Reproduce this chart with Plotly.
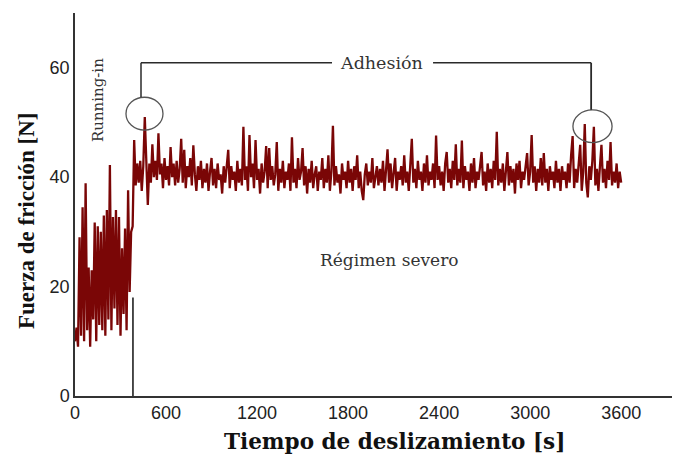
import numpy as np
import plotly.graph_objects as go

# ---------------- data ----------------
SAMPLE_STEP_S = 10  # seconds between readings
friction_force_n = [
    # 0-39 running-in
    10.0, 12.5, 9.0, 29.0, 11.0, 34.5, 10.0, 38.9, 12.0, 23.5,
    9.0, 23.0, 14.0, 31.7, 10.0, 31.0, 13.0, 30.0, 12.0, 33.0,
    11.0, 34.0, 14.0, 42.2, 12.0, 32.7, 16.0, 34.0, 13.0, 32.7,
    11.0, 27.0, 15.0, 30.6, 12.0, 37.6, 19.0, 30.0, 31.0, 46.8,
    # 40-59
    38.5, 42.5, 39.0, 43.0, 37.5, 42.0, 51.0, 40.5, 34.9, 42.5,
    39.0, 46.0, 40.0, 43.0, 39.5, 48.0, 40.5, 42.5, 38.0, 43.5,
    # 60-79
    39.5, 42.0, 38.5, 45.5, 40.0, 42.5, 38.5, 43.0, 39.0, 41.5,
    47.0, 39.0, 45.0, 38.0, 42.0, 40.0, 43.5, 38.5, 45.8, 40.5,
    # 80-99
    37.5, 42.0, 39.5, 43.0, 38.0, 41.5, 39.0, 42.5, 37.5, 41.0,
    43.5, 38.5, 41.5, 38.0, 42.5, 39.5, 40.5, 37.0, 42.0, 39.0,
    # 100-119
    41.5, 45.0, 38.0, 42.0, 39.5, 41.0, 37.5, 43.0, 39.0, 41.5,
    38.5, 49.2, 39.5, 42.0, 37.5, 47.7, 40.0, 42.5, 38.0, 46.8,
    # 120-139
    39.5, 41.5, 37.0, 42.5, 39.0, 41.0, 45.7, 38.0, 45.3, 39.5,
    42.0, 38.5, 40.5, 46.4, 37.5, 41.5, 39.0, 43.0, 38.0, 41.0,
    # 140-159
    39.5, 42.5, 37.5, 47.3, 39.0, 41.5, 38.0, 43.5, 39.5, 41.0,
    45.3, 38.5, 42.0, 37.0, 41.5, 39.0, 43.0, 38.0, 40.5, 42.0,
    # 160-179
    37.5, 41.0, 39.5, 43.5, 38.0, 41.5, 39.0, 44.0, 37.5, 41.0,
    49.4, 38.5, 42.0, 39.0, 40.5, 37.0, 42.5, 39.5, 41.0, 38.0,
    # 180-199
    43.0, 39.0, 41.5, 37.5, 42.0, 39.5, 44.0, 38.0, 41.0, 37.5,
    35.8, 40.5, 42.5, 38.5, 41.0, 39.0, 43.5, 38.0, 40.0, 42.0,
    # 200-219
    38.5, 41.5, 39.0, 43.0, 37.5, 41.0, 45.1, 39.0, 42.5, 38.0,
    40.5, 43.5, 37.5, 41.0, 39.5, 42.0, 38.5, 44.0, 39.0, 41.0,
    # 220-239
    37.5, 42.0, 47.0, 39.0, 41.5, 38.0, 43.0, 39.5, 41.0, 37.5,
    42.5, 39.0, 44.0, 38.5, 41.0, 39.5, 42.5, 38.0, 47.6, 39.5,
    # 240-259
    42.0, 38.5, 41.0, 37.5, 42.5, 44.6, 39.0, 41.5, 38.0, 43.0,
    39.5, 46.0, 38.5, 41.5, 39.0, 46.7, 38.0, 42.0, 39.5, 41.0,
    # 260-279
    37.5, 42.5, 39.0, 43.5, 38.0, 41.0, 39.5, 42.0, 44.6, 38.5,
    41.0, 37.5, 42.5, 39.0, 41.5, 38.0, 43.0, 39.5, 48.3, 38.5,
    # 280-299
    41.5, 39.0, 42.5, 37.5, 41.0, 44.6, 38.5, 42.0, 39.0, 41.5,
    37.0, 42.5, 39.5, 43.0, 38.0, 41.0, 39.5, 42.0, 44.4, 38.5,
    # 300-319
    41.0, 47.7, 39.0, 42.0, 37.5, 41.5, 39.0, 43.5, 38.5, 44.4,
    39.0, 41.5, 37.5, 42.0, 39.5, 41.0, 38.0, 43.0, 39.0, 41.5,
    # 320-339
    37.5, 42.0, 39.5, 41.0, 38.0, 42.5, 39.0, 44.0, 47.5, 38.0,
    41.5, 39.0, 42.5, 45.9, 37.5, 41.0, 49.7, 39.0, 36.3, 42.0,
    # 340-360
    39.5, 43.0, 49.2, 38.5, 41.5, 37.5, 42.0, 45.9, 39.0, 41.5,
    38.0, 43.0, 39.5, 46.4, 38.5, 41.0, 39.0, 42.5, 38.0, 41.0,
    39.0,
]
time_s = np.arange(len(friction_force_n)) * SAMPLE_STEP_S

x_tick_values = [0, 600, 1200, 1800, 2400, 3000, 3600]
x_tick_labels = ["0", "600", "1200", "1800", "2400", "3000", "3600"]
y_tick_values = [0, 20, 40, 60]
y_tick_labels = ["0", "20", "40", "60"]

running_in_end_s = 382
x_title = "Tiempo de deslizamiento [s]"
y_title = "Fuerza de fricción [N]"

# ---------------- figure ----------------
fig = go.Figure()
fig.add_trace(go.Scatter(
    x=time_s, y=friction_force_n, mode="lines",
    line=dict(color="#7a0606", width=2.3),
    hoverinfo="skip", showlegend=False,
))

ink = "#2a2a2a"
serif = "DejaVu Serif"
shapes = [
    dict(type="line", xref="x", yref="y", x0=running_in_end_s, x1=running_in_end_s,
         y0=0, y1=18, line=dict(color="#111", width=1.5), layer="below"),
    dict(type="circle", xref="x", yref="y", x0=336, x1=580, y0=48.6, y1=54.6,
         line=dict(color="#555", width=1.3)),
    dict(type="circle", xref="x", yref="y", x0=3282, x1=3540, y0=46.3, y1=52.3,
         line=dict(color="#555", width=1.3)),
    dict(type="line", xref="x", yref="y", x0=435, x1=435, y0=54.6, y1=60.9,
         line=dict(color=ink, width=1.5)),
    dict(type="line", xref="x", yref="y", x0=435, x1=1694, y0=60.9, y1=60.9,
         line=dict(color=ink, width=1.5)),
    dict(type="line", xref="x", yref="y", x0=2360, x1=3402, y0=60.9, y1=60.9,
         line=dict(color=ink, width=1.5)),
    dict(type="line", xref="x", yref="y", x0=3402, x1=3402, y0=60.9, y1=52.3,
         line=dict(color=ink, width=1.8)),
]

annotations = [
    dict(x=2017, y=60.9, xref="x", yref="y", text="Adhesión", showarrow=False,
         font=dict(family=serif, size=17.5, color="#333")),
    dict(x=152, y=54.1, xref="x", yref="y", text="Running-in", showarrow=False,
         textangle=-90, font=dict(family=serif, size=15, color="#333")),
    dict(x=2076, y=24.9, xref="x", yref="y", text="Régimen severo", showarrow=False,
         font=dict(family=serif, size=17, color="#333")),
    dict(x=0.536, y=-0.1175, xref="paper", yref="paper", text="<b>" + x_title + "</b>",
         showarrow=False, xanchor="center", yanchor="middle",
         font=dict(family=serif, size=21.5, color="#111")),
    dict(x=-0.0804, y=0.457, xref="paper", yref="paper", text="<b>" + y_title + "</b>",
         showarrow=False, xanchor="center", yanchor="middle", textangle=-90,
         font=dict(family="Liberation Serif", size=23, color="#111")),
]

fig.update_layout(
    width=673, height=458,
    margin=dict(l=75, r=1, t=13, b=62),
    paper_bgcolor="white", plot_bgcolor="white",
    shapes=shapes, annotations=annotations,
    xaxis=dict(range=[0, 3935], tickvals=x_tick_values, ticktext=x_tick_labels,
               showgrid=False, zeroline=False, showline=True, linecolor="#333",
               linewidth=1.5, ticks="", tickfont=dict(family="Liberation Sans", size=18, color="#222")),
    yaxis=dict(range=[0, 70], tickvals=y_tick_values, ticktext=y_tick_labels,
               showgrid=False, zeroline=False, showline=True, linecolor="#333",
               linewidth=1.5, ticks="", tickfont=dict(family="Liberation Sans", size=18, color="#222")),
)

fig.write_html("out.html", config={"displayModeBar": False},
               post_script="document.body.style.margin='0';")
